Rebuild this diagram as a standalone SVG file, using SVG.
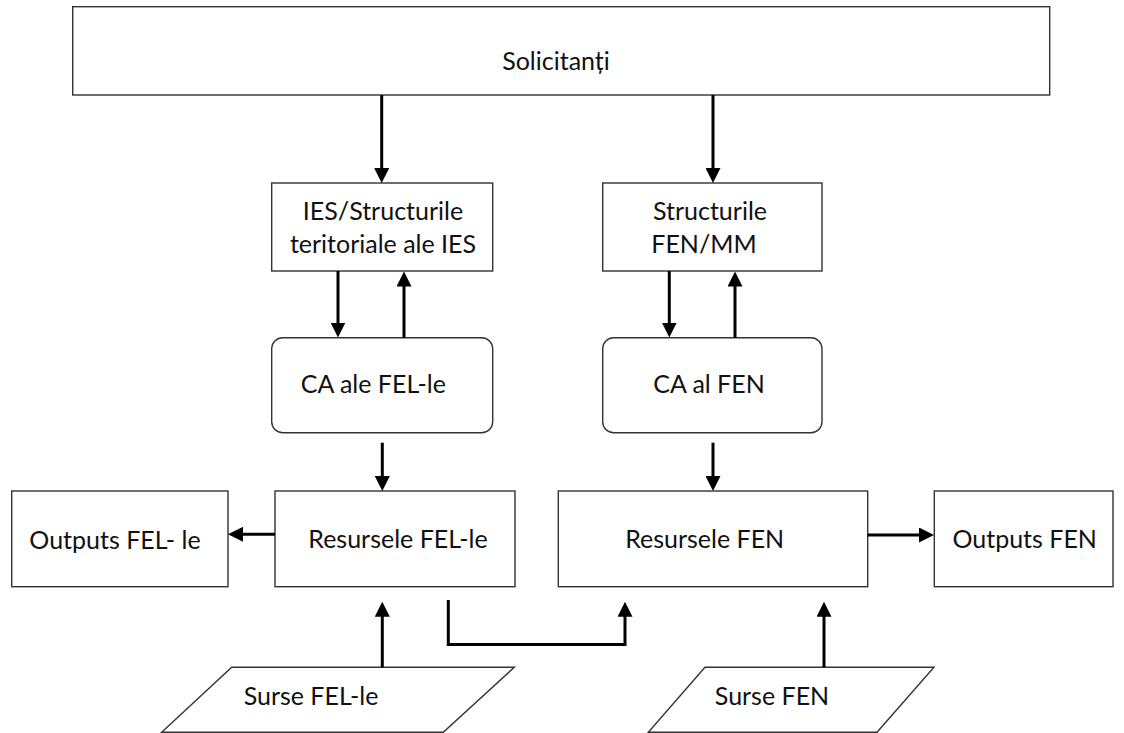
<svg xmlns="http://www.w3.org/2000/svg" width="1124" height="733" viewBox="0 0 1124 733">
  <style>
    .box { fill: #ffffff; stroke: #333333; stroke-width: 1.4; }
    .lbl { font-family: Lato, "Liberation Sans", sans-serif; font-size: 25px; fill: #111111; text-anchor: middle; }
    .wire { fill: none; stroke: #000000; stroke-width: 3; }
  </style>
  <defs>
    <marker id="arrow" markerUnits="userSpaceOnUse" markerWidth="15" markerHeight="15" refX="5" refY="7.5" orient="auto">
      <path d="M0,0 L15,7.5 L0,15 z" fill="#000000"/>
    </marker>
  </defs>
  <rect width="1124" height="733" fill="#ffffff"/>

  <g id="solicitanti">
    <rect class="box" x="72.7" y="6.7" width="977" height="88.3"/>
    <text class="lbl" x="556" y="70">Solicitanți</text>
  </g>

  <g id="ies">
    <rect class="box" x="271.7" y="183" width="221" height="88"/>
    <text class="lbl" x="383" y="220">IES/Structurile</text>
    <text class="lbl" x="383" y="253">teritoriale ale IES</text>
  </g>

  <g id="structuri-fen">
    <rect class="box" x="602.7" y="183" width="219.3" height="88"/>
    <text class="lbl" x="710" y="220">Structurile</text>
    <text class="lbl" x="704" y="253">FEN/MM</text>
  </g>

  <g id="ca-fel">
    <rect class="box" x="271.7" y="337.7" width="221" height="95" rx="11" ry="11"/>
    <text class="lbl" x="373.3" y="393">CA ale FEL-le</text>
  </g>

  <g id="ca-fen">
    <rect class="box" x="602.7" y="337.7" width="219.3" height="95" rx="11" ry="11"/>
    <text class="lbl" x="709" y="393">CA al FEN</text>
  </g>

  <g id="outputs-fel">
    <rect class="box" x="11.7" y="491" width="216.3" height="95.7"/>
    <text class="lbl" x="115" y="549" xml:space="preserve">Outputs FEL- le</text>
  </g>

  <g id="resurse-fel">
    <rect class="box" x="275" y="491" width="240" height="95.7"/>
    <text class="lbl" x="398" y="548">Resursele FEL-le</text>
  </g>

  <g id="resurse-fen">
    <rect class="box" x="558.3" y="491" width="309.4" height="95.7"/>
    <text class="lbl" x="704.7" y="548">Resursele FEN</text>
  </g>

  <g id="outputs-fen">
    <rect class="box" x="934.3" y="491" width="178.7" height="95.7"/>
    <text class="lbl" x="1024.7" y="548">Outputs FEN</text>
  </g>

  <g id="surse-fel">
    <polygon class="box" points="231.7,667.3 514.3,667.3 443.3,732.3 161.7,732.3"/>
    <text class="lbl" x="311" y="705">Surse FEL-le</text>
  </g>

  <g id="surse-fen">
    <polygon class="box" points="705,667.3 934,667.3 877,732.3 648.3,732.3"/>
    <text class="lbl" x="772" y="705">Surse FEN</text>
  </g>

  <g id="connectors">
    <line class="wire" x1="381.7" y1="95" x2="381.7" y2="173" marker-end="url(#arrow)"/>
    <line class="wire" x1="713" y1="95" x2="713" y2="173" marker-end="url(#arrow)"/>
    <line class="wire" x1="338" y1="271" x2="338" y2="327.5" marker-end="url(#arrow)"/>
    <line class="wire" x1="404" y1="337.7" x2="404" y2="281.5" marker-end="url(#arrow)"/>
    <line class="wire" x1="669.3" y1="271" x2="669.3" y2="327.5" marker-end="url(#arrow)"/>
    <line class="wire" x1="735" y1="337.7" x2="735" y2="281.5" marker-end="url(#arrow)"/>
    <line class="wire" x1="382.3" y1="442.7" x2="382.3" y2="481" marker-end="url(#arrow)"/>
    <line class="wire" x1="713" y1="442.7" x2="713" y2="481" marker-end="url(#arrow)"/>
    <line class="wire" x1="275" y1="534.3" x2="238" y2="534.3" marker-end="url(#arrow)"/>
    <line class="wire" x1="867.7" y1="535" x2="924" y2="535" marker-end="url(#arrow)"/>
    <line class="wire" x1="382.3" y1="667.3" x2="382.3" y2="611.7" marker-end="url(#arrow)"/>
    <polyline class="wire" points="448.3,600 448.3,644.5 625,644.5 625,611.7" marker-end="url(#arrow)"/>
    <line class="wire" x1="824" y1="667.3" x2="824" y2="611.7" marker-end="url(#arrow)"/>
  </g>
</svg>
